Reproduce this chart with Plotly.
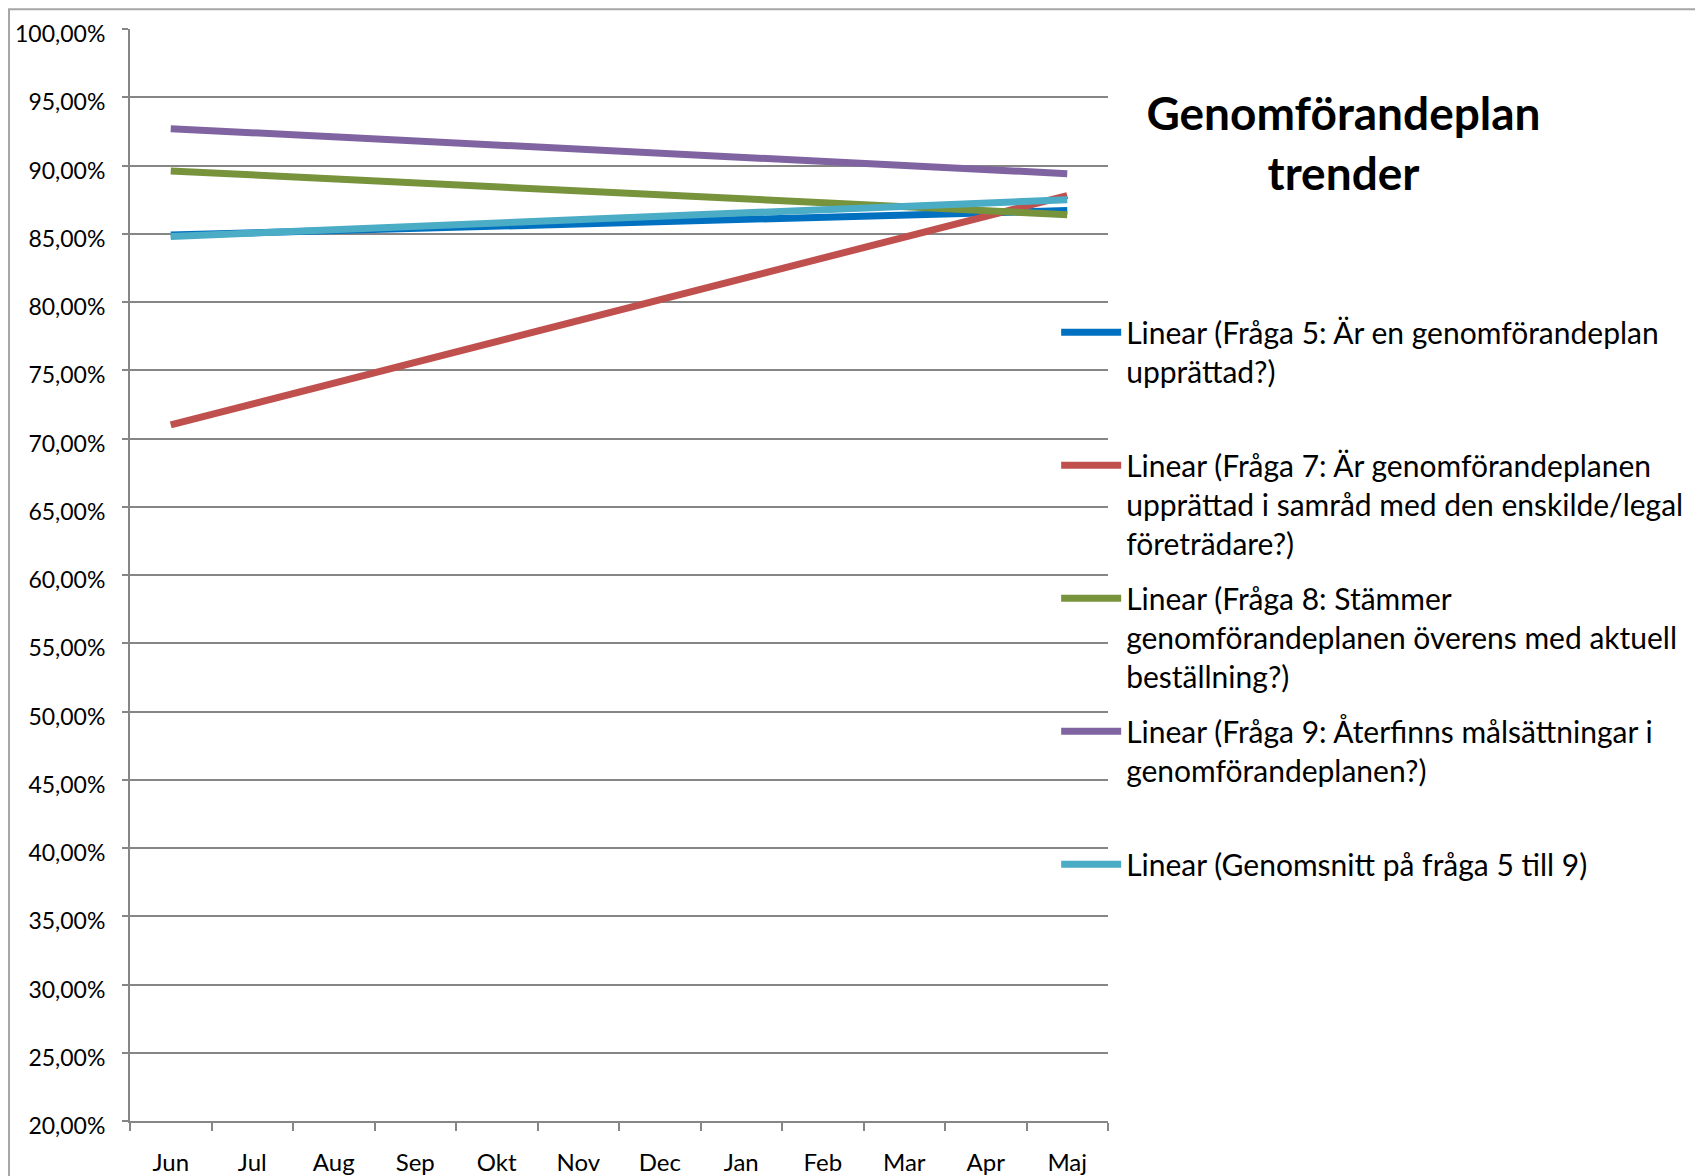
import plotly.graph_objects as go

# months on the x axis
months = ["Jun", "Jul", "Aug", "Sep", "Okt", "Nov", "Dec", "Jan", "Feb", "Mar", "Apr", "Maj"]

trend_x = ["Jun", "Maj"]
fraga5 = [0.849, 0.867]
fraga7 = [0.710, 0.878]
fraga8 = [0.896, 0.864]
fraga9 = [0.927, 0.894]
snitt = [0.848, 0.875]

names = [
    "Linear (Fråga 5: Är en genomförandeplan<br>upprättad?)<br> ",
    "Linear (Fråga 7: Är genomförandeplanen<br>upprättad i samråd med den enskilde/legal<br>företrädare?)",
    "Linear (Fråga 8: Stämmer<br>genomförandeplanen överens med aktuell<br>beställning?)",
    "Linear (Fråga 9: Återfinns målsättningar i<br>genomförandeplanen?)<br> ",
    "Linear (Genomsnitt på fråga 5 till 9)<br> <br> ",
]
series = [fraga5, fraga7, fraga8, fraga9, snitt]
colors = ["#0070C0", "#C0504D", "#77933C", "#8064A2", "#4BACC6"]

fig = go.Figure()
for i, (vals, name, col) in enumerate(zip(series, names, colors)):
    fig.add_trace(go.Scatter(
        x=trend_x, y=vals, mode="lines", name=name,
        line=dict(color=col, width=7),
        legendgroup=str(i),
    ))

grid = "#868686"
fig.update_layout(
    width=1703, height=1176,
    margin=dict(l=122, r=603, t=21, b=63),
    paper_bgcolor="white", plot_bgcolor="white",
    separators=", ",
    font=dict(family="Lato", size=24, color="black"),
    title=dict(
        text="Genomförandeplan<br>trender",
        font=dict(family="Lato", size=46, weight="bold", color="black"),
        x=0.7842, xref="container", xanchor="center",
        y=1 - 122 / 1176, yref="container", yanchor="top",
    ),
    legend=dict(
        x=0.947, xanchor="left", y=0.746, yanchor="top",
        font=dict(family="Lato", size=30, color="black"),
        valign="top", tracegroupgap=13, itemwidth=60,
        bgcolor="rgba(0,0,0,0)",
    ),
    showlegend=True,
    shapes=[dict(
        type="rect", xref="paper", yref="paper",
        x0=-0.1237, x1=1.8, y0=-0.2, y1=1.018,
        line=dict(color="#A6A6A6", width=2), layer="below",
    )],
)

fig.update_xaxes(
    type="category", categoryorder="array", categoryarray=months,
    range=[-0.5, 11.5], tickson="boundaries", automargin=False,
    ticks="outside", ticklen=8, tickcolor=grid, tickwidth=2,
    showline=True, linecolor=grid, linewidth=2,
    showgrid=False, tickfont=dict(size=24), ticklabelstandoff=19,
)
fig.update_yaxes(
    range=[0.2, 1.0], dtick=0.05, tickformat=".2%", automargin=False,
    ticks="outside", ticklen=6, tickcolor=grid, tickwidth=2,
    showline=True, linecolor=grid, linewidth=2,
    showgrid=True, gridcolor=grid, gridwidth=2,
    zeroline=False, tickfont=dict(size=23), ticklabelstandoff=12,
    ticklabelshift=5,
)

fig.write_html("out.html")
